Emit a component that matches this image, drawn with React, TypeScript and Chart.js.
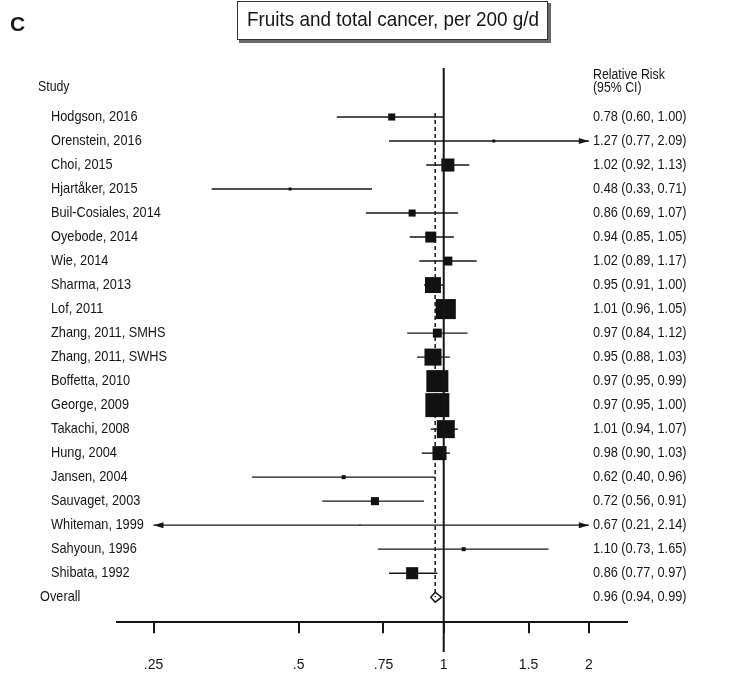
import React, { useEffect, useRef } from "react";
import { Chart, registerables } from "chart.js";

Chart.register(...registerables);

// Study-level estimates (relative risk per 200 g/d of fruit, 95% CI, % weight)
const studies = [
  "Hodgson, 2016",
  "Orenstein, 2016",
  "Choi, 2015",
  "Hjartåker, 2015",
  "Buil-Cosiales, 2014",
  "Oyebode, 2014",
  "Wie, 2014",
  "Sharma, 2013",
  "Lof, 2011",
  "Zhang, 2011, SMHS",
  "Zhang, 2011, SWHS",
  "Boffetta, 2010",
  "George, 2009",
  "Takachi, 2008",
  "Hung, 2004",
  "Jansen, 2004",
  "Sauvaget, 2003",
  "Whiteman, 1999",
  "Sahyoun, 1996",
  "Shibata, 1992",
];
const relativeRisk = [0.78, 1.27, 1.02, 0.48, 0.86, 0.94, 1.02, 0.95, 1.01, 0.97, 0.95, 0.97, 0.97, 1.01, 0.98, 0.62, 0.72, 0.67, 1.1, 0.86];
const ciLower = [0.6, 0.77, 0.92, 0.33, 0.69, 0.85, 0.89, 0.91, 0.96, 0.84, 0.88, 0.95, 0.95, 0.94, 0.9, 0.4, 0.56, 0.21, 0.73, 0.77];
const ciUpper = [1.0, 2.09, 1.13, 0.71, 1.07, 1.05, 1.17, 1.0, 1.05, 1.12, 1.03, 0.99, 1.0, 1.07, 1.03, 0.96, 0.91, 2.14, 1.65, 0.97];
const studyWeights = [1.5, 0.27, 5.1, 0.27, 1.5, 3.6, 2.4, 7.6, 12.0, 2.4, 8.7, 14.5, 17.2, 9.7, 5.9, 0.48, 1.95, 0.04, 0.48, 4.35];

// Pooled estimate
const overallLabel = "Overall";
const overallRR = 0.96;
const overallLower = 0.94;
const overallUpper = 0.99;

// Axis ticks
const tickValues = [0.25, 0.5, 0.75, 1, 1.5, 2];
const tickLabels = [".25", ".5", ".75", "1", "1.5", "2"];

const chartTitle = "Fruits and total cancer, per 200 g/d";
const panelLetter = "C";
const studyHeader = "Study";
const riskHeader = ["Relative Risk", "(95% CI)"];

// Layout
const W = 744;
const H = 700;
const VISIBLE_H = 674;
const ROW0 = 117;
const ROW_STEP = 24;
const PLOT_TOP = 68;
const AXIS_Y = 622;
const AXIS_LEFT = 117;
const AXIS_RIGHT = 627;
const X_MIN = 0.21;
const X_MAX = 2.4;
const Y_MIN = -(ROW0 - PLOT_TOP) / ROW_STEP;
const Y_MAX = (AXIS_Y - ROW0) / ROW_STEP;
const BOX_SCALE = 5.78;
const FONT = '"Liberation Sans", Arial, Helvetica, sans-serif';
const INK = "#161616";

const fmt = (v: number) => v.toFixed(2);

function drawText(
  ctx: CanvasRenderingContext2D,
  s: string,
  x: number,
  y: number,
  size: number,
  sx: number,
  align: CanvasTextAlign = "left",
  weight = "normal"
) {
  ctx.save();
  ctx.font = `${weight} ${size}px ${FONT}`;
  ctx.textBaseline = "middle";
  ctx.textAlign = align;
  ctx.fillStyle = INK;
  ctx.translate(x, y);
  ctx.scale(sx, 1);
  ctx.fillText(s, 0, 0);
  ctx.restore();
}

function arrowHead(ctx: CanvasRenderingContext2D, x: number, y: number, dir: number) {
  ctx.beginPath();
  ctx.moveTo(x, y);
  ctx.lineTo(x - dir * 10, y - 3);
  ctx.lineTo(x - dir * 10, y + 3);
  ctx.closePath();
  ctx.fill();
}

const forestPlugin = {
  id: "forest",
  beforeDatasetsDraw(chart: any) {
    const { ctx } = chart;
    const xs = chart.scales.x;
    const ys = chart.scales.y;
    const clipLo = tickValues[0];
    const clipHi = tickValues[tickValues.length - 1];

    // dashed line at the pooled estimate
    ctx.save();
    ctx.strokeStyle = INK;
    ctx.lineWidth = 1.5;
    ctx.setLineDash([4, 3]);
    const xo = xs.getPixelForValue(overallRR);
    ctx.beginPath();
    ctx.moveTo(xo, ys.getPixelForValue(-0.17));
    ctx.lineTo(xo, ys.getPixelForValue(studies.length));
    ctx.stroke();
    ctx.restore();

    // confidence intervals
    ctx.save();
    ctx.strokeStyle = INK;
    ctx.fillStyle = INK;
    ctx.lineWidth = 1.4;
    studies.forEach((_, i) => {
      const y = ys.getPixelForValue(i);
      const lo = Math.max(ciLower[i], clipLo);
      const hi = Math.min(ciUpper[i], clipHi);
      const x1 = xs.getPixelForValue(lo);
      const x2 = xs.getPixelForValue(hi);
      ctx.beginPath();
      ctx.moveTo(x1, y);
      ctx.lineTo(x2, y);
      ctx.stroke();
      if (ciLower[i] < clipLo) arrowHead(ctx, x1, y, -1);
      if (ciUpper[i] > clipHi) arrowHead(ctx, x2, y, 1);
    });
    ctx.restore();
  },
  afterDatasetsDraw(chart: any) {
    const { ctx, chartArea } = chart;
    const xs = chart.scales.x;
    const ys = chart.scales.y;

    // line of no effect
    const x1 = xs.getPixelForValue(1);
    ctx.save();
    ctx.strokeStyle = INK;
    ctx.lineWidth = 2;
    ctx.beginPath();
    ctx.moveTo(x1, chartArea.top);
    ctx.lineTo(x1, AXIS_Y + 30);
    ctx.stroke();
    ctx.restore();

    // pooled diamond
    const yo = ys.getPixelForValue(studies.length);
    ctx.save();
    ctx.strokeStyle = INK;
    ctx.lineWidth = 1.5;
    ctx.beginPath();
    ctx.moveTo(xs.getPixelForValue(overallLower), yo);
    ctx.lineTo(xs.getPixelForValue(overallRR), yo - 5);
    ctx.lineTo(xs.getPixelForValue(overallUpper), yo);
    ctx.lineTo(xs.getPixelForValue(overallRR), yo + 5);
    ctx.closePath();
    ctx.stroke();
    ctx.restore();

    // column headers
    drawText(ctx, studyHeader, 38, ys.getPixelForValue(-1.25), 14, 0.88);
    drawText(ctx, riskHeader[0], 593, ys.getPixelForValue(-1.75), 14, 0.88);
    drawText(ctx, riskHeader[1], 593, ys.getPixelForValue(-1.2), 14, 0.88);

    // study labels and estimates
    studies.forEach((name, i) => {
      const y = ys.getPixelForValue(i);
      drawText(ctx, name, 51, y, 15, 0.85);
      drawText(ctx, `${fmt(relativeRisk[i])} (${fmt(ciLower[i])}, ${fmt(ciUpper[i])})`, 593, y, 15, 0.85);
    });
    drawText(ctx, overallLabel, 40, yo, 15, 0.85);
    drawText(ctx, `${fmt(overallRR)} (${fmt(overallLower)}, ${fmt(overallUpper)})`, 593, yo, 15, 0.85);

    // panel letter and boxed title
    drawText(ctx, panelLetter, 10, 25, 21, 1, "left", "bold");
    ctx.save();
    ctx.fillStyle = "#6a6a6a";
    ctx.fillRect(239, 3, 312, 40);
    ctx.fillStyle = "#ffffff";
    ctx.fillRect(237, 1, 311, 39);
    ctx.strokeStyle = "#333";
    ctx.lineWidth = 1;
    ctx.strokeRect(237.5, 1.5, 310, 38);
    ctx.restore();
    drawText(ctx, chartTitle, 393, 20, 21, 0.9, "center");
  },
};

export default function App() {
  const ref = useRef<HTMLCanvasElement>(null);

  useEffect(() => {
    if (!ref.current) return;
    const chart = new Chart(ref.current, {
      type: "scatter",
      data: {
        datasets: [
          {
            data: studies.map((_, i) => ({ x: relativeRisk[i], y: i })),
            pointStyle: "rect",
            pointRadius: studyWeights.map((w) => (BOX_SCALE * Math.sqrt(w)) / Math.SQRT2),
            pointBackgroundColor: "#111",
            pointBorderWidth: 0,
            clip: false as any,
          },
        ],
      },
      options: {
        responsive: false,
        animation: false,
        events: [],
        layout: {
          padding: { left: AXIS_LEFT, right: W - AXIS_RIGHT, top: PLOT_TOP, bottom: 2 },
        },
        plugins: {
          legend: { display: false },
          tooltip: { enabled: false },
        },
        scales: {
          x: {
            type: "logarithmic",
            min: X_MIN,
            max: X_MAX,
            afterBuildTicks: (axis: any) => {
              axis.ticks = tickValues.map((v) => ({ value: v }));
            },
            ticks: {
              autoSkip: false,
              maxRotation: 0,
              padding: 24,
              color: INK,
              font: { family: FONT, size: 14 },
              callback: (_v: any, i: number) => tickLabels[i],
            },
            grid: {
              drawOnChartArea: false,
              drawTicks: true,
              tickLength: 11,
              color: INK,
              lineWidth: 2,
            },
            border: { display: true, color: INK, width: 2 },
          },
          y: {
            type: "linear",
            display: false,
            reverse: true,
            min: Y_MIN,
            max: Y_MAX,
          },
        },
      },
      plugins: [forestPlugin],
    } as any);
    return () => chart.destroy();
  }, []);

  return (
    <div
      style={{
        position: "fixed",
        top: 0,
        left: 0,
        width: W,
        height: VISIBLE_H,
        overflow: "hidden",
        background: "#fff",
      }}
    >
      <canvas ref={ref} width={W} height={H} style={{ display: "block" }} />
    </div>
  );
}
